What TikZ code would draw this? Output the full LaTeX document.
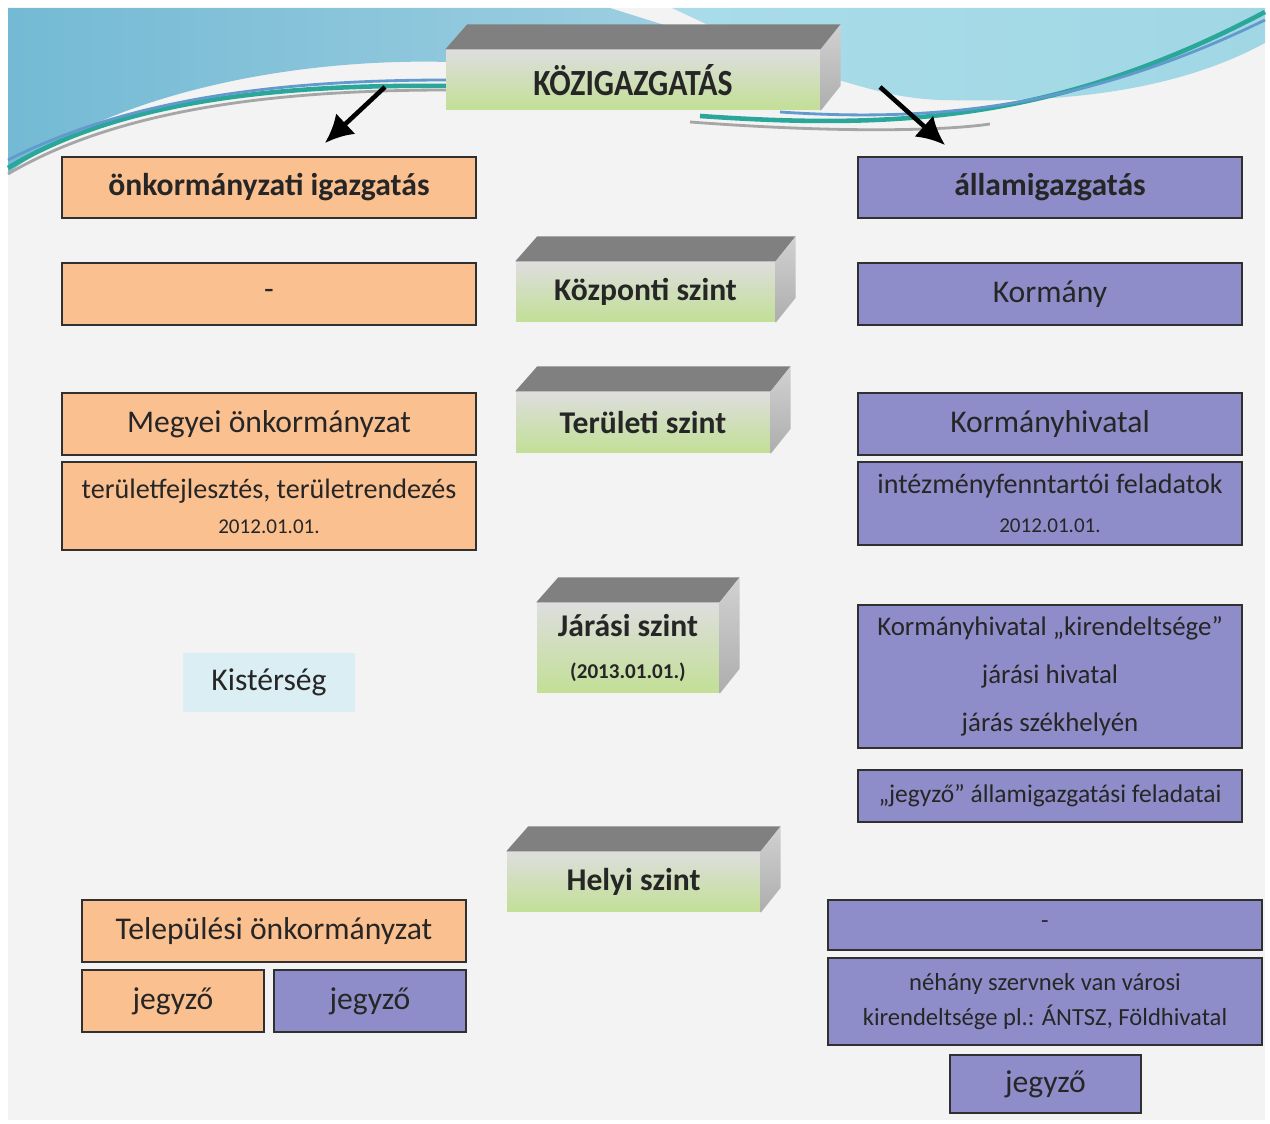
\documentclass[tikz,border=0pt]{standalone}
\usepackage{fontspec}
\setmainfont{Carlito}
\usetikzlibrary{arrows.meta}

\definecolor{narancs}{HTML}{FAC090}
\definecolor{lila}{HTML}{8F8DC9}
\definecolor{halvanykek}{HTML}{DAEEF3}
\definecolor{hatter}{HTML}{F3F3F3}
\definecolor{kekhullam}{HTML}{74BAD4}
\definecolor{kekhullamv}{HTML}{A9DCE8}
\definecolor{zold}{HTML}{C2DF96}
\definecolor{szurke}{HTML}{DEDEDE}
\definecolor{keret}{HTML}{303030}
\definecolor{szoveg}{HTML}{262626}
\definecolor{teteje}{HTML}{808080}
\definecolor{turkiz}{HTML}{2BA79A}
\definecolor{sotetkek}{HTML}{1F6FB8}

\begin{document}
\begin{tikzpicture}[
	doboz/.style={draw=keret, line width=0.7pt, inner sep=0pt, align=center, text=szoveg},
	onk/.style={doboz, fill=narancs},
	all/.style={doboz, fill=lila},
	szint/.style={inner sep=0pt, align=center, top color=szurke, bottom color=zold, text=szoveg, font=\fontsize{9}{11}\selectfont\bfseries},
	nyil/.style={line width=1.3pt, -{Latex[length=8pt,width=8pt]}},
	normal/.style={font=\fontsize{9}{11}\selectfont},
	fej/.style={font=\fontsize{9}{11}\selectfont\bfseries}
]
	\useasboundingbox (0,0) rectangle (12.7,-11.24);
	\fill[hatter] (0.08,-0.08) rectangle (12.65,-11.2);

	% hullamok a tetejen
	\shade[left color=kekhullam, right color=kekhullam!70!white] (0.08,-0.08) -- (6.1,-0.08) -- (6.8,-0.3) -- (6.8,-0.62) -- (4.49,-0.62) .. controls (3.0,-0.58) and (1.2,-0.9) .. (0.08,-1.73) -- cycle;
	\shade[left color=kekhullamv, right color=kekhullamv!85!kekhullam] (6.72,-0.08) -- (12.65,-0.08) -- (12.65,-0.43) .. controls (11.6,-1.0) and (10.3,-1.02) .. (9.4,-1.0) .. controls (8.9,-0.98) and (8.6,-0.85) .. (8.3,-0.78) -- (7.4,-0.4) -- cycle;
	\draw[turkiz, line width=1.3pt] (0.08,-1.68) .. controls (1.2,-1.0) and (2.8,-0.84) .. (4.49,-0.86);
	\draw[sotetkek!70!white, line width=0.8pt] (0.08,-1.6) .. controls (1.3,-0.98) and (2.8,-0.8) .. (4.49,-0.8);
	\draw[gray!70, line width=0.8pt] (0.08,-1.74) .. controls (1.2,-1.08) and (2.8,-0.9) .. (4.49,-0.9);
	\draw[turkiz, line width=1.3pt] (7.0,-1.16) .. controls (9.0,-1.3) and (10.6,-1.2) .. (12.65,-0.12);
	\draw[sotetkek!70!white, line width=0.8pt] (7.8,-1.12) .. controls (9.3,-1.22) and (10.8,-1.1) .. (12.65,-0.2);
	\draw[gray!70, line width=0.8pt] (6.9,-1.22) .. controls (8.5,-1.34) and (9.5,-1.3) .. (9.9,-1.24);

	% szintek (3D dobozok)
	\node[szint, font=\fontsize{10.5}{12}\selectfont\bfseries, minimum width=3.74cm, minimum height=0.6cm] (kozig) at (6.33,-0.80) {\scalebox{0.86}[1]{KÖZIGAZGATÁS}};
	\node[szint, minimum width=2.59cm, minimum height=0.6cm] (kozp) at (6.455,-2.92) {Központi szint};
	\node[szint, minimum width=2.54cm, minimum height=0.61cm] (terul) at (6.43,-4.225) {Területi szint};
	\node[szint, minimum width=1.82cm, minimum height=0.9cm] (jaras) at (6.28,-6.48) {Járási szint\\[1pt]{\fontsize{6}{7}\selectfont (2013.01.01.)}};
	\node[szint, minimum width=2.53cm, minimum height=0.6cm] (helyi) at (6.335,-8.82) {Helyi szint};

	\foreach \n in {kozig,kozp,terul,jaras,helyi}{
		\fill[teteje] (\n.north west) -- ++(0.22,0.25) -- ([shift={(0.2,0.25)}]\n.north east) -- (\n.north east) -- cycle;
		\shade[top color=black!18, bottom color=black!32] (\n.north east) -- ++(0.2,0.25) -- ([shift={(0.2,0.25)}]\n.south east) -- (\n.south east) -- cycle;
	}

	% onkormanyzati oldal
	\node[onk, fej, minimum width=4.14cm, minimum height=0.61cm] (onkig) at (2.69,-1.875) {önkormányzati igazgatás};
	\node[onk, normal, minimum width=4.14cm, minimum height=0.62cm] (onkkp) at (2.69,-2.94) {\raisebox{-2pt}{-}};
	\node[onk, normal, minimum width=4.14cm, minimum height=0.62cm] (megyei) at (2.69,-4.24) {Megyei önkormányzat};
	\node[onk, font=\fontsize{8}{10}\selectfont, minimum width=4.14cm, minimum height=0.88cm] (terfejl) at (2.69,-5.06) {területfejlesztés, területrendezés\\{\fontsize{6}{7}\selectfont 2012.01.01.}};
	\node[normal, fill=halvanykek, text=szoveg, inner sep=0pt, minimum width=1.72cm, minimum height=0.59cm] (kister) at (2.69,-6.825) {Kistérség};
	\node[onk, normal, minimum width=3.84cm, minimum height=0.62cm] (telep) at (2.74,-9.31) {Települési önkormányzat};
	\node[onk, normal, minimum width=1.82cm, minimum height=0.62cm] (jegyzo1) at (1.73,-10.01) {jegyző};
	\node[all, normal, minimum width=1.92cm, minimum height=0.62cm] (jegyzo2) at (3.70,-10.01) {jegyző};

	% allamigazgatasi oldal
	\node[all, fej, minimum width=3.84cm, minimum height=0.61cm] (allig) at (10.5,-1.875) {államigazgatás};
	\node[all, normal, minimum width=3.84cm, minimum height=0.62cm] (korm) at (10.5,-2.94) {Kormány};
	\node[all, normal, minimum width=3.84cm, minimum height=0.62cm] (kh) at (10.5,-4.24) {Kormányhivatal};
	\node[all, font=\fontsize{8}{11}\selectfont, minimum width=3.84cm, minimum height=0.83cm] (intez) at (10.5,-5.035) {intézményfenntartói feladatok\\{\fontsize{6}{7}\selectfont 2012.01.01.}};
	\node[all, font=\fontsize{7.65}{13.7}\selectfont, minimum width=3.84cm, minimum height=1.43cm] (kirend) at (10.5,-6.765) {Kormányhivatal „kirendeltsége”\\járási hivatal\\járás székhelyén};
	\node[all, font=\fontsize{7.25}{9}\selectfont, minimum width=3.84cm, minimum height=0.52cm] (jegyall) at (10.5,-7.96) {„jegyző” államigazgatási feladatai};
	\node[all, font=\fontsize{7}{9}\selectfont, minimum width=4.34cm, minimum height=0.5cm] (helyiall) at (10.45,-9.25) {-};
	\node[all, font=\fontsize{7}{10}\selectfont, minimum width=4.34cm, minimum height=0.87cm] (nehany) at (10.45,-10.015) {néhány szervnek van városi\\kirendeltsége pl.: ÁNTSZ, Földhivatal};
	\node[all, normal, minimum width=1.91cm, minimum height=0.58cm] (jegyzo3) at (10.455,-10.84) {jegyző};

	% nyilak
	\coordinate (balkezd) at (3.85,-0.87);
	\coordinate (balveg) at (3.25,-1.43);
	\coordinate (jobbkezd) at (8.8,-0.87);
	\coordinate (jobbveg) at (9.45,-1.45);
	\draw[nyil] (balkezd) -- (balveg);
	\draw[nyil] (jobbkezd) -- (jobbveg);
\end{tikzpicture}
\end{document}
